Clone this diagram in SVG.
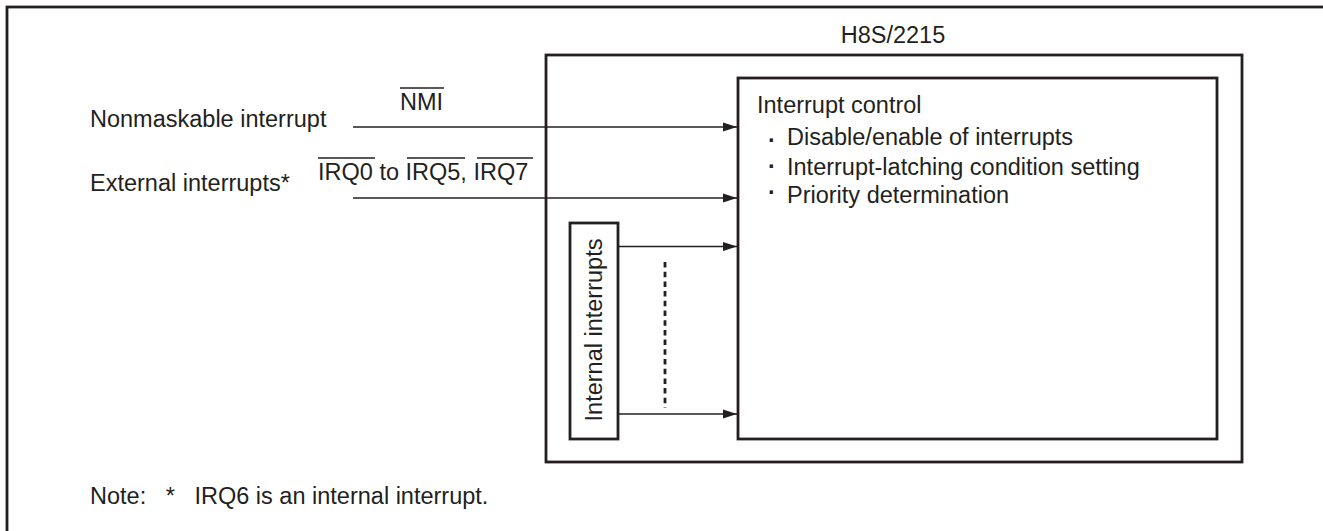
<svg xmlns="http://www.w3.org/2000/svg" width="1323" height="531" viewBox="0 0 1323 531">
<style>
  text { font-family: "Liberation Sans", Arial, sans-serif; font-size: 23.5px; fill: #231f20; }
  .bul { font-weight: bold; }
  .box { fill: none; stroke: #231f20; stroke-width: 2.8; }
  .wire { fill: none; stroke: #231f20; stroke-width: 1.4; }
  .ovl { stroke: #231f20; stroke-width: 1.3; }
  .dash { stroke: #231f20; stroke-width: 2.8; stroke-dasharray: 5.5 4.2; }
</style>
<defs>
  <marker id="arr" markerWidth="14" markerHeight="10" refX="14" refY="5" orient="auto" markerUnits="userSpaceOnUse">
    <path d="M0,0.5 L14,5 L0,9.5 Z" fill="#231f20"/>
  </marker>
</defs>
<rect width="1323" height="531" fill="#ffffff"/>
<g id="frame">
  <rect x="7" y="7" width="1330" height="540" class="box"/>
</g>
<g id="chip">
  <rect x="546" y="55" width="696" height="407" class="box"/>
  <text x="893" y="43" text-anchor="middle">H8S/2215</text>
</g>
<g id="interrupt-control">
  <rect x="738" y="78" width="479" height="361" class="box"/>
  <text x="757" y="113">Interrupt control</text>
  <text x="768" y="148"><tspan class="bul">·</tspan><tspan x="787" dy="-3">Disable/enable of interrupts</tspan></text>
  <text x="768" y="174"><tspan class="bul">·</tspan><tspan x="787" dy="1">Interrupt-latching condition setting</tspan></text>
  <text x="768" y="200"><tspan class="bul">·</tspan><tspan x="787" dy="3">Priority determination</tspan></text>
</g>
<g id="internal-interrupts">
  <rect x="570" y="223" width="48" height="216" class="box"/>
  <text transform="translate(602,330) rotate(-90)" text-anchor="middle">Internal interrupts</text>
</g>
<g id="nmi-label">
  <text x="90" y="127">Nonmaskable interrupt</text>
  <text x="400" y="110">NMI</text>
  <line x1="400" y1="88" x2="444" y2="88" class="ovl"/>
</g>
<g id="ext-label">
  <text x="90" y="191">External interrupts*</text>
  <text x="318" y="180">IRQ0 to IRQ5, IRQ7</text>
  <line x1="318" y1="158" x2="375" y2="158" class="ovl"/>
  <line x1="407" y1="158" x2="465" y2="158" class="ovl"/>
  <line x1="477" y1="158" x2="533" y2="158" class="ovl"/>
</g>
<g id="connectors">
  <line x1="353" y1="127" x2="737" y2="127" class="wire" marker-end="url(#arr)"/>
  <line x1="353" y1="198" x2="737" y2="198" class="wire" marker-end="url(#arr)"/>
  <line x1="618" y1="246.5" x2="737" y2="246.5" class="wire" marker-end="url(#arr)"/>
  <line x1="618" y1="414" x2="737" y2="414" class="wire" marker-end="url(#arr)"/>
  <line x1="665" y1="262" x2="665" y2="408" class="dash"/>
</g>
<g id="note">
  <text x="90" y="504" xml:space="preserve">Note:   *   IRQ6 is an internal interrupt.</text>
</g>
</svg>
